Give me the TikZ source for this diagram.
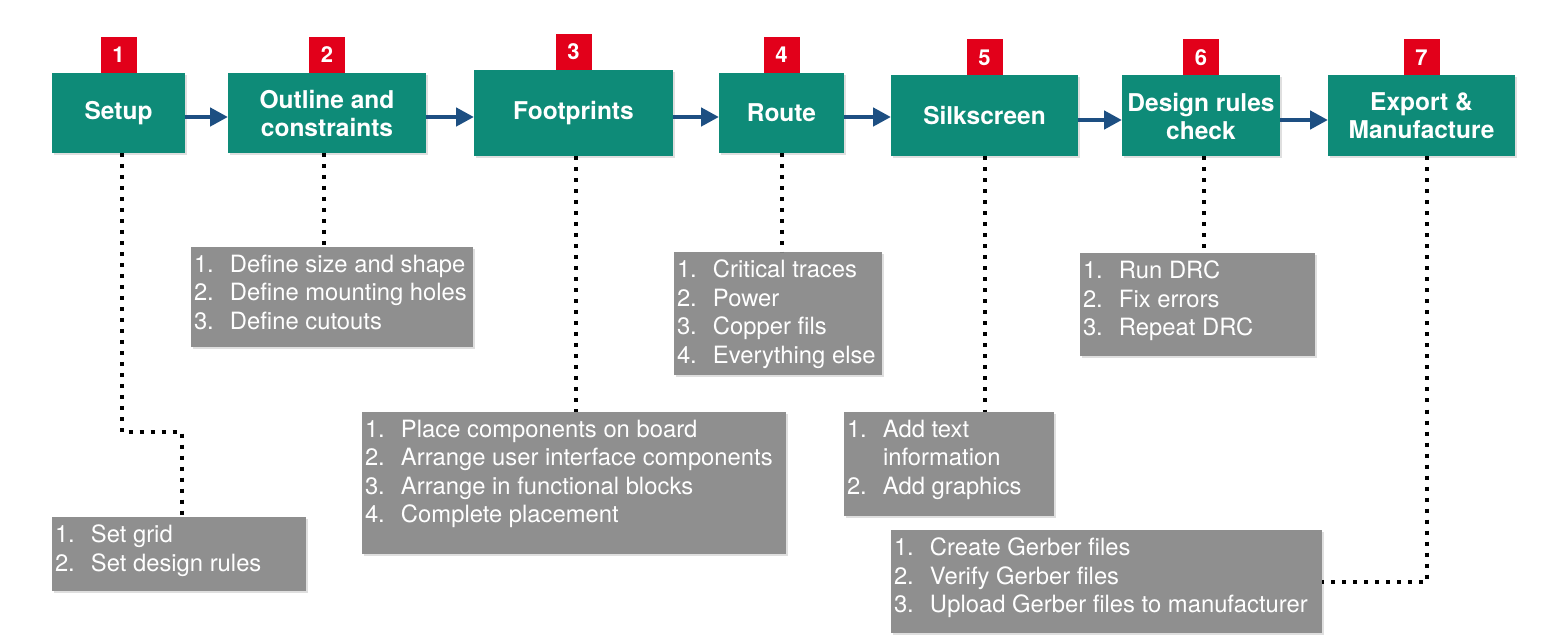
\documentclass[tikz,border=0pt]{standalone}
\usepackage{fontspec}
\setmainfont{TeX Gyre Heros}
\usepackage{tikz}
\usetikzlibrary{arrows.meta,positioning,shadows}
\definecolor{pcbGreen}{HTML}{0E8B78}
\definecolor{pcbRed}{HTML}{E2001A}
\definecolor{pcbGray}{HTML}{8F8F8F}
\definecolor{pcbBlue}{HTML}{1D4F82}
\newcommand{\stepitem}[2]{\makebox[36pt][l]{#1}#2}
\newcommand{\listbox}[3]{\parbox[c][#2][t]{#1}{\raggedright\leftskip=3pt\vspace*{8pt}#3}}

\begin{document}
\begin{tikzpicture}[
x=1pt, y=-1pt,
stage/.style={fill=pcbGreen, text=white, align=center, inner sep=0pt, outer sep=0pt, minimum height=80pt, font=\fontsize{24.5}{28}\selectfont\bfseries, drop shadow={opacity=0.25, shadow xshift=2pt, shadow yshift=-2pt}},
badge/.style={fill=pcbRed, text=white, inner sep=0pt, outer sep=0pt, minimum width=36pt, minimum height=36pt, font=\fontsize{22}{24}\selectfont\bfseries},
todo/.style={fill=pcbGray, text=white, anchor=north west, inner sep=0pt, outer sep=0pt, font=\fontsize{23.8}{28.5}\selectfont, drop shadow={opacity=0.25, shadow xshift=2pt, shadow yshift=-2pt}},
arr/.style={-{Triangle[length=18pt,width=18pt]}, line width=4.5pt, draw=pcbBlue},
darr/.style={line width=4pt, dash pattern=on 4pt off 7pt, draw=black}
]
\useasboundingbox (0,0) rectangle (1567,644);

% Stages along the top
\node[stage, minimum width=133pt] (S1) at (118.5,113) {Setup};
\node[stage, minimum width=198pt, right=43pt of S1] (S2) {Outline and\\constraints};
\node[stage, minimum width=199pt, minimum height=86pt, right=48pt of S2] (S3) {Footprints};
\node[stage, minimum width=125pt, right=46pt of S3] (S4) {Route};
\node[stage, minimum width=187pt, minimum height=81pt, right=47pt of S4, yshift=-3pt] (S5) {Silkscreen};
\node[stage, minimum width=158pt, minimum height=81pt, right=44pt of S5] (S6) {Design rules\\check};
\node[stage, minimum width=187pt, minimum height=81pt, right=48pt of S6] (S7) {Export \&\\Manufacture};

% Step numbers
\node[badge, above=0pt of S1] (N1) {1};
\node[badge, above=0pt of S2] (N2) {2};
\node[badge, above=0pt of S3] (N3) {3};
\node[badge, above=0pt of S4] (N4) {4};
\node[badge, above=0pt of S5] (N5) {5};
\node[badge, above=0pt of S6] (N6) {6};
\node[badge, above=0pt of S7] (N7) {7};

\draw[arr] ([yshift=-4pt]S1.east) -- ([yshift=-4pt]S1.east -| S2.west);
\draw[arr] ([yshift=-4pt]S2.east) -- ([yshift=-4pt]S2.east -| S3.west);
\draw[arr] ([yshift=-4pt]S3.east) -- ([yshift=-4pt]S3.east -| S4.west);
\draw[arr] ([yshift=-4pt]S4.east) -- ([yshift=-4pt]S4.east -| S5.west);
\draw[arr] ([yshift=-4pt]S5.east) -- ([yshift=-4pt]S5.east -| S6.west);
\draw[arr] ([yshift=-4pt]S6.east) -- ([yshift=-4pt]S6.east -| S7.west);

% Task lists
\node[todo] (L1) at (52,517) {\listbox{254pt}{74pt}{\stepitem{1.}{Set grid}\\\stepitem{2.}{Set design rules}}};
\node[todo] (L2) at (191,247) {\listbox{282pt}{100pt}{\stepitem{1.}{Define size and shape}\\\stepitem{2.}{Define mounting holes}\\\stepitem{3.}{Define cutouts}}};
\node[todo] (L3) at (362,412) {\listbox{424pt}{142pt}{\stepitem{1.}{Place components on board}\\\stepitem{2.}{Arrange user interface components}\\\stepitem{3.}{Arrange in functional blocks}\\\stepitem{4.}{Complete placement}}};
\node[todo] (L4) at (674,252) {\listbox{208pt}{123pt}{\stepitem{1.}{Critical traces}\\\stepitem{2.}{Power}\\\stepitem{3.}{Copper fils}\\\stepitem{4.}{Everything else}}};
\node[todo] (L5) at (844,412) {\listbox{210pt}{104pt}{\stepitem{1.}{Add text}\\\stepitem{}{information}\\\stepitem{2.}{Add graphics}}};
\node[todo] (L6) at (1080,253) {\listbox{235pt}{103pt}{\stepitem{1.}{Run DRC}\\\stepitem{2.}{Fix errors}\\\stepitem{3.}{Repeat DRC}}};
\node[todo] (L7) at (891,530) {\listbox{431pt}{103pt}{\stepitem{1.}{Create Gerber files}\\\stepitem{2.}{Verify Gerber files}\\\stepitem{3.}{Upload Gerber files to manufacturer}}};

% Dotted links down to the lists
\draw[darr] ([xshift=3pt]S1.south) -- ++(0,279) -| ([xshift=3pt]L1.north);
\draw[darr] ([xshift=-3pt]S2.south) -- ([xshift=-3pt]S2.south |- L2.north);
\draw[darr] ([xshift=2pt]S3.south) -- ([xshift=2pt]S3.south |- L3.north);
\draw[darr] (S4.south) -- (S4.south |- L4.north);
\draw[darr] (S5.south) -- (S5.south |- L5.north);
\draw[darr] ([xshift=3pt]S6.south) -- ([xshift=3pt]S6.south |- L6.north);
\draw[darr] ([xshift=5pt]S7.south) |- (L7.east);
\end{tikzpicture}
\end{document}
